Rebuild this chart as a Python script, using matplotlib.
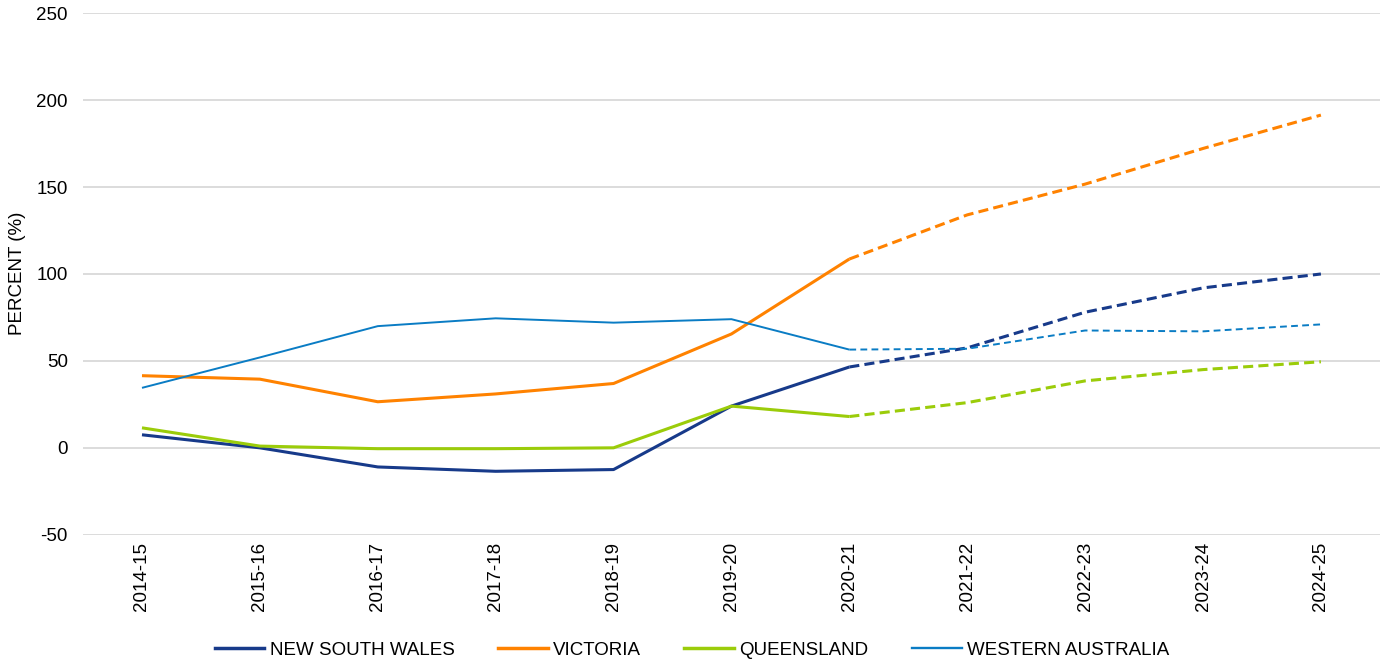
import matplotlib
matplotlib.use("Agg")
import matplotlib.pyplot as plt
from matplotlib.lines import Line2D

plt.rcParams['font.family'] = ['Liberation Sans', 'DejaVu Sans']
plt.rcParams['axes.unicode_minus'] = False

years = ["2014-15", "2015-16", "2016-17", "2017-18", "2018-19", "2019-20",
         "2020-21", "2021-22", "2022-23", "2023-24", "2024-25"]
nsw = [7.5, 0, -11, -13.5, -12.5, 24, 46.5, 57.5, 78, 92, 100]
vic = [41.5, 39.5, 26.5, 31, 37, 65.5, 108.6, 134, 151.7, 172.2, 191.4]
qld = [11.5, 1, -0.5, -0.5, 0, 24, 18, 26, 38.5, 45, 49.5]
wa = [34.5, 52, 70, 74.5, 72, 74, 56.5, 57, 67.5, 67, 71]
split = 6  # index where projections (dashed) begin

series = [
    ("NEW SOUTH WALES", nsw, "#173A8A", 2.2, (0, (3.3, 1.7))),
    ("VICTORIA", vic, "#FF8200", 2.2, (0, (3.3, 1.7))),
    ("QUEENSLAND", qld, "#9BCC0A", 2.2, (0, (3.3, 1.7))),
    ("WESTERN AUSTRALIA", wa, "#0A7CC4", 1.4, (0, (3.5, 2.2))),
]

FS = 13.5
fig = plt.figure(figsize=(13.84, 6.61), dpi=100)
ax = fig.add_axes([0.06, 0.191, 0.937, 0.789])
x = list(range(len(years)))
handles = []
for name, vals, col, lw, dash in series:
    ax.plot(x[:split + 1], vals[:split + 1], color=col, lw=lw, solid_capstyle='butt')
    ax.plot(x[split:], vals[split:], color=col, lw=lw, ls=dash)
    handles.append(Line2D([], [], color=col, lw=lw + 0.3, label=name))

ax.set_xlim(-0.5, len(years) - 0.5)
ax.set_ylim(-50, 250)
ax.set_yticks([-50, 0, 50, 100, 150, 200, 250])
ax.set_xticks(x)
ax.set_xticklabels(years, rotation=90)
ax.grid(axis='y', color='#D9D9D9', lw=1.3)
ax.set_axisbelow(True)
for s in ax.spines.values():
    s.set_visible(False)
ax.tick_params(length=0, labelsize=FS)
ax.tick_params(axis='y', pad=11)
ax.tick_params(axis='x', pad=5)
fig.text(18 / 1384, 0.587, "PERCENT (%)", rotation=90, ha='center', va='center',
         fontsize=FS)

fig.legend(handles=handles, loc='center', ncol=4, frameon=False,
           fontsize=FS, bbox_to_anchor=(0.5, 1 - 650 / 661), handlelength=2.65,
           columnspacing=2.3, handletextpad=0.3)

fig.savefig("out.png", dpi=100)
